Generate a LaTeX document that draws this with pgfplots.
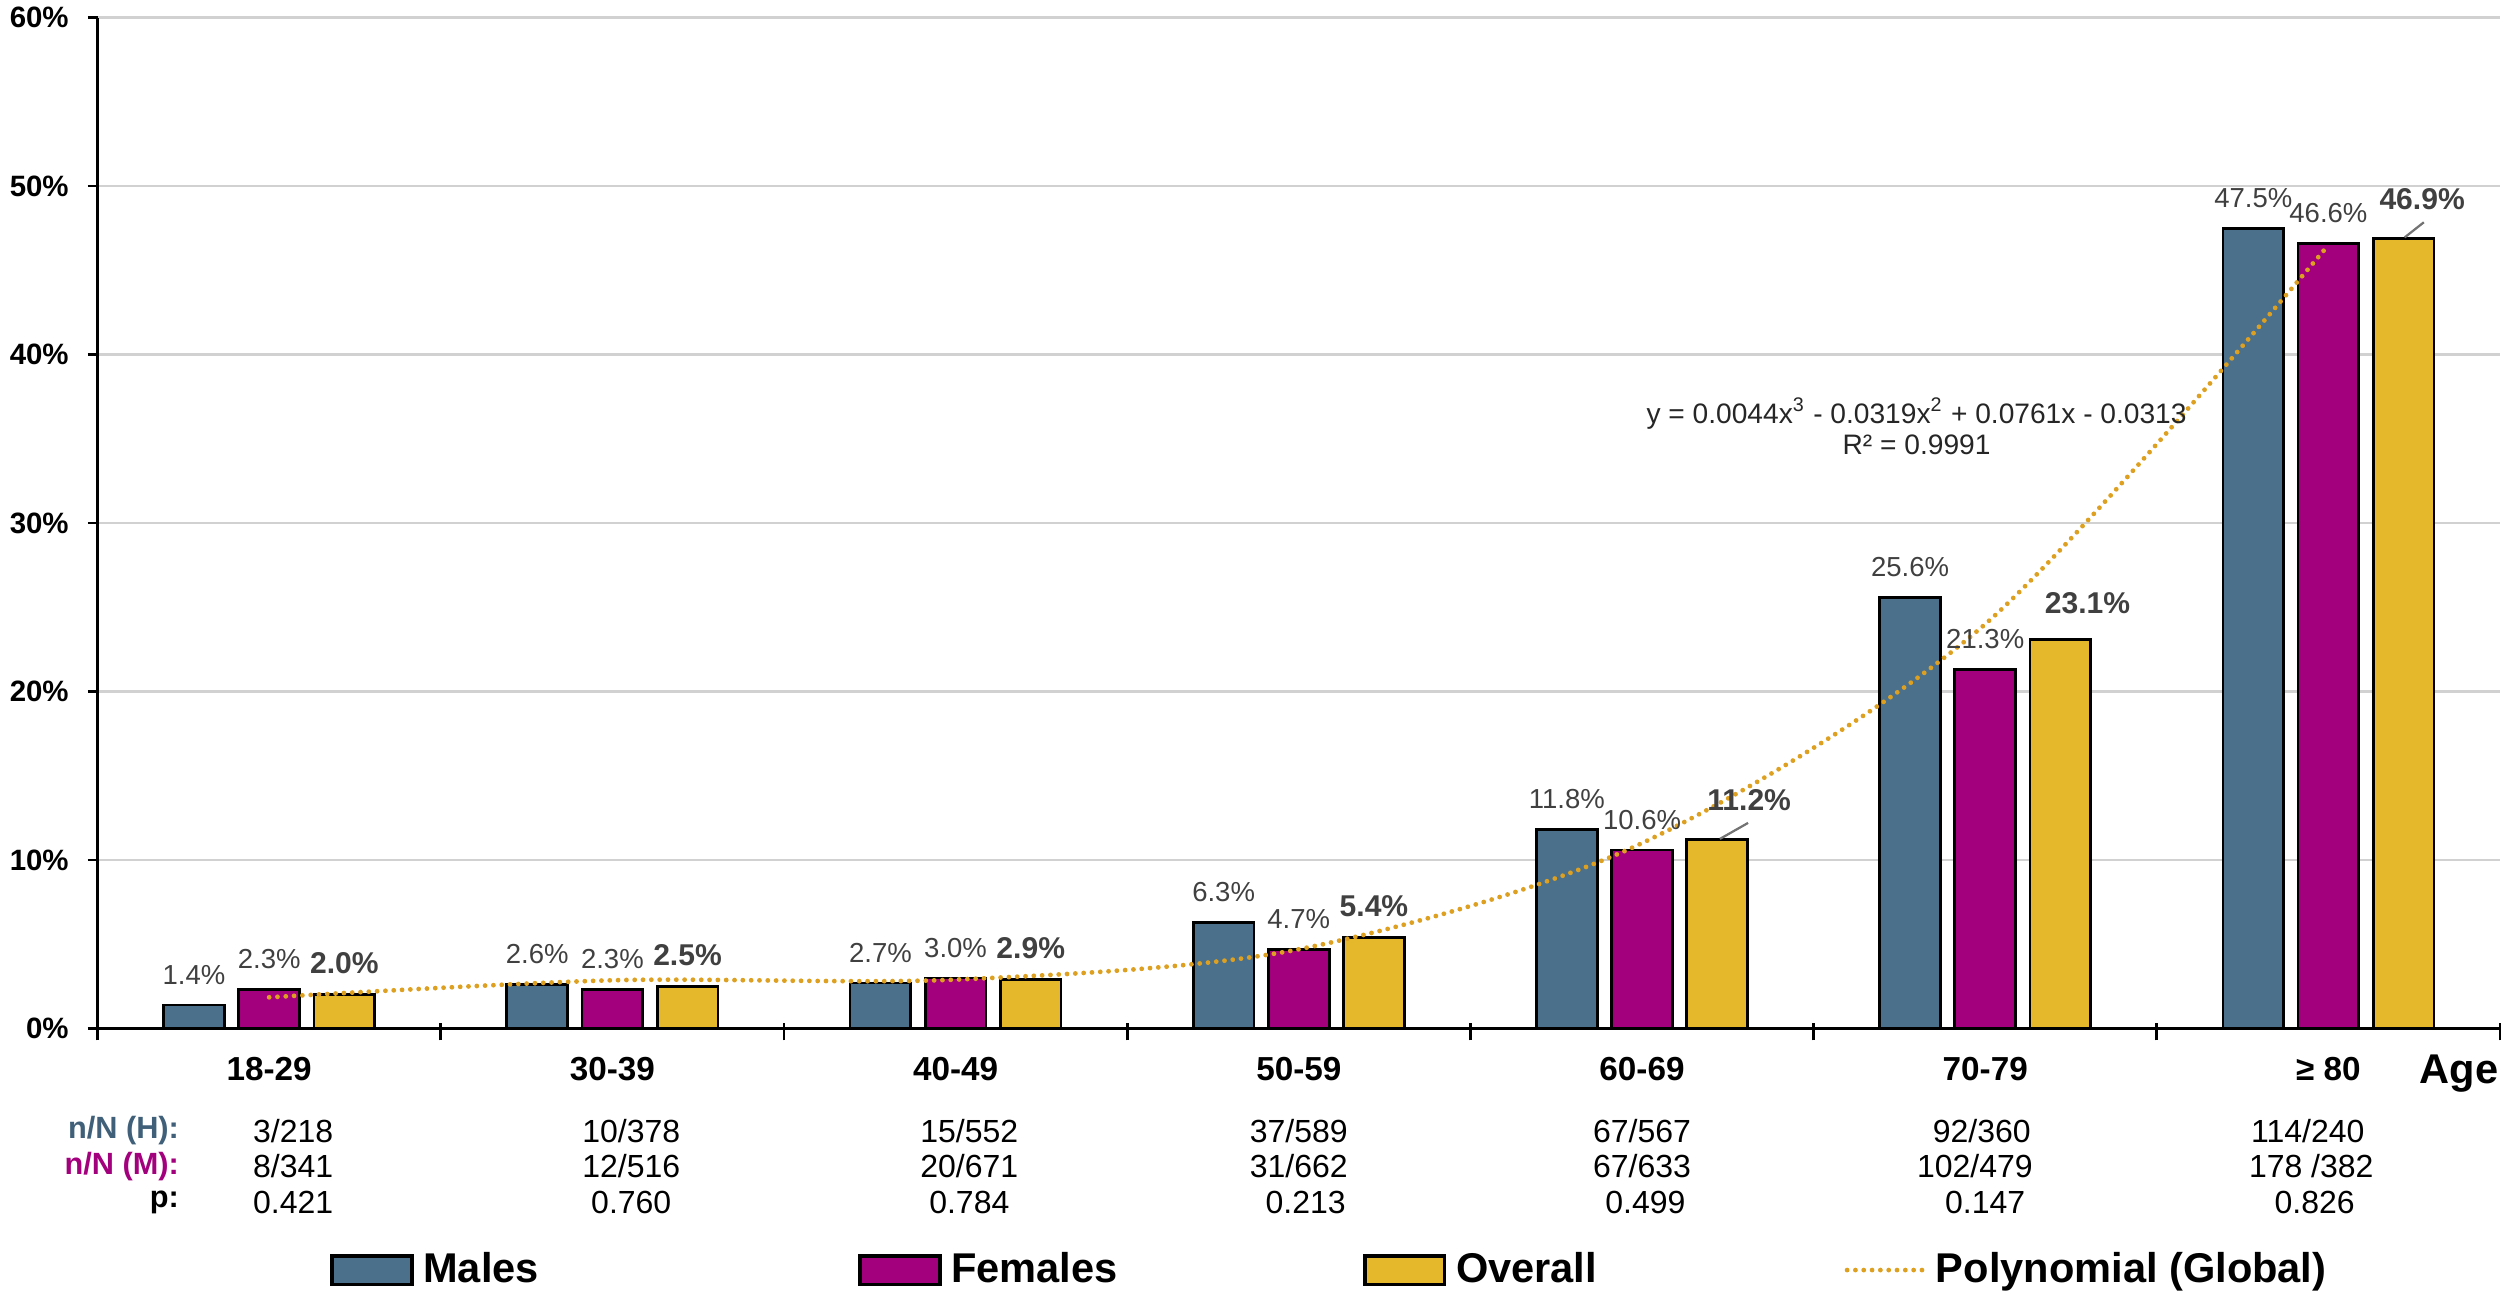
\documentclass[border=0pt]{standalone}
\usepackage{fontspec}
\setmainfont{Liberation Sans}
\usepackage{pgfplots}
\pgfplotsset{compat=1.18}
\definecolor{males}{HTML}{4A708B}
\definecolor{females}{HTML}{A3007D}
\definecolor{overall}{HTML}{E5B82C}
\definecolor{trend}{HTML}{DDA020}
\definecolor{lab}{HTML}{404040}
\definecolor{hcol}{HTML}{3F6078}
\pgfplotsset{
  barleg/.style={legend image code/.code={\draw[##1,line width=1pt] (0pt,-4.4pt) rectangle (25pt,4.4pt);}},
  lineleg/.style={legend image code/.code={\draw[##1] (0pt,0pt) -- (24pt,0pt);}},
  lbl/.style={nodes near coords={\pgfmathprintnumber[fixed,fixed zerofill,precision=1]{\pgfplotspointmeta}\%},
    every node near coord/.append style={font=\fontsize{8.6}{10}\selectfont, text=lab, inner sep=2.5pt, yshift=3.5pt}},
  lblb/.style={nodes near coords={\pgfmathprintnumber[fixed,fixed zerofill,precision=1]{\pgfplotspointmeta}\%},
    every node near coord/.append style={font=\bfseries\fontsize{9.4}{11}\selectfont, text=lab, inner sep=2.5pt, yshift=3.5pt}},
}
\begin{document}
\begin{tikzpicture}
\begin{axis}[
  scale only axis, width=751pt, height=316pt,
  xmin=0.5, xmax=7.5, ymin=0, ymax=60,
  axis lines=left, axis line style={-, line width=1pt, black},
  clip=false,
  xtick={1,...,7},
  xticklabels={18-29,30-39,40-49,50-59,60-69,70-79,≥ 80},
  x tick style={draw=none},
  minor xtick={0.5,1.5,...,7.5},
  minor x tick style={draw=black, line width=0.9pt, yshift=1.8pt},
  minor tick length=5.5pt,
  major tick length=3pt,
  tick align=outside,
  ytick={0,10,...,60},
  y tick style={draw=black, line width=0.9pt},
  yticklabel={\pgfmathprintnumber{\tick}\%},
  /pgf/number format/assume math mode=true,
  yticklabel style={font=\bfseries\fontsize{9.2}{11}\selectfont, xshift=-2.5pt},
  xticklabel style={font=\bfseries\fontsize{10.4}{12}\selectfont, yshift=-2.5pt},
  ymajorgrids, grid style={line width=0.7pt, black!18},
  legend style={at={(0.513,-0.239)}, anchor=center, draw=none, fill=none,
    legend columns=4,
    nodes={inner sep=1pt},
    font=\bfseries\fontsize{13}{15}\selectfont,
    /tikz/every odd column/.append style={column sep=2pt},
    /tikz/column 2/.style={column sep=98.9pt},
    /tikz/column 4/.style={column sep=75.8pt},
    /tikz/column 6/.style={column sep=76.4pt}},
]
\addplot[ybar, bar width=0.177, bar shift=0, fill=males, draw=black, line width=0.85pt, lbl, barleg]
  coordinates {(0.781,1.4) (1.781,2.6) (2.781,2.7) (3.781,6.3) (4.781,11.8) (5.781,25.6) (6.781,47.5)};
\addlegendentry{Males}
\addplot[ybar, bar width=0.177, bar shift=0, fill=females, draw=black, line width=0.85pt, lbl, barleg]
  coordinates {(1,2.3) (2,2.3) (3,3.0) (4,4.7) (5,10.6) (6,21.3) (7,46.6)};
\addlegendentry{Females}
\addplot[ybar, bar width=0.177, bar shift=0, fill=overall, draw=black, line width=0.85pt, lblb, barleg,
  coordinate style/.condition={and(x>5,x<5.5)}{xshift=10pt, yshift=2.5pt},
  coordinate style/.condition={and(x>6,x<6.5)}{xshift=8.5pt, yshift=1.5pt},
  coordinate style/.condition={x>7}{xshift=5.8pt, yshift=2.5pt}]
  coordinates {(1.219,2.0) (2.219,2.5) (3.219,2.9) (4.219,5.4) (5.219,11.2) (6.219,23.1) (7.219,46.9)};
\addlegendentry{Overall}
\addplot[trend, line width=1.5pt, line cap=round, dash pattern=on 0pt off 2.6pt, smooth, mark=none, lineleg]
  coordinates {(1,1.85) (2,2.86) (3,2.9) (4,4.7) (5,11.0) (6,24.0) (7,46.5)};
\addlegendentry{Polynomial (Global)}

\draw[black!55, line width=0.7pt] (axis cs:5.227,11.25) -- (axis cs:5.309,12.2);
\draw[black!55, line width=0.7pt] (axis cs:7.222,46.95) -- (axis cs:7.278,47.85);

\node[align=center, font=\fontsize{8.8}{9.8}\selectfont, text=black!85] at (axis cs:5.80,35.75)
  {y = 0.0044x\textsuperscript{3} - 0.0319x\textsuperscript{2} + 0.0761x - 0.0313\\R² = 0.9991};

\node[font=\bfseries\fontsize{13}{15}\selectfont] at (axis cs:7.381,-2.66) {Age};

\node[anchor=east, font=\bfseries\fontsize{9.6}{11}\selectfont, text=hcol] at (axis cs:0.770,-6.08) {n/N (H):};
\node[anchor=east, font=\bfseries\fontsize{9.6}{11}\selectfont, text=females] at (axis cs:0.770,-8.17) {n/N (M):};
\node[anchor=east, font=\bfseries\fontsize{9.6}{11}\selectfont] at (axis cs:0.770,-10.35) {p:};

\tikzset{tv/.style={font=\fontsize{10}{12}\selectfont}}
\node[tv] at (axis cs:1.07,-6.08) {3/218};
\node[tv] at (axis cs:2.055,-6.08) {10/378};
\node[tv] at (axis cs:3.04,-6.08) {15/552};
\node[tv] at (axis cs:4.0,-6.08) {37/589};
\node[tv] at (axis cs:5.0,-6.08) {67/567};
\node[tv] at (axis cs:5.99,-6.08) {92/360};
\node[tv] at (axis cs:6.94,-6.08) {114/240};
\node[tv] at (axis cs:1.07,-8.17) {8/341};
\node[tv] at (axis cs:2.055,-8.17) {12/516};
\node[tv] at (axis cs:3.04,-8.17) {20/671};
\node[tv] at (axis cs:4.0,-8.17) {31/662};
\node[tv] at (axis cs:5.0,-8.17) {67/633};
\node[tv] at (axis cs:5.97,-8.17) {102/479};
\node[tv] at (axis cs:6.95,-8.17) {178 /382};
\node[tv] at (axis cs:1.07,-10.35) {0.421};
\node[tv] at (axis cs:2.055,-10.35) {0.760};
\node[tv] at (axis cs:3.04,-10.35) {0.784};
\node[tv] at (axis cs:4.02,-10.35) {0.213};
\node[tv] at (axis cs:5.01,-10.35) {0.499};
\node[tv] at (axis cs:6.0,-10.35) {0.147};
\node[tv] at (axis cs:6.96,-10.35) {0.826};

\coordinate (bl) at (rel axis cs:0,0);
\coordinate (tr) at (rel axis cs:1,1);
\end{axis}
\pgfresetboundingbox
\path ([shift={(-30.5pt,-83.2pt)}]bl) rectangle ([shift={(2.5pt,5.5pt)}]tr);
\end{tikzpicture}
\end{document}
